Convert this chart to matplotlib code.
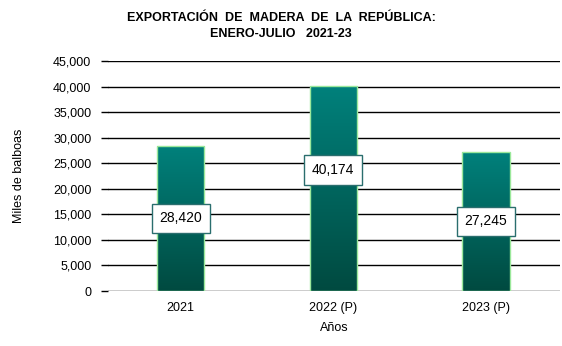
import matplotlib
matplotlib.use("Agg")
import matplotlib.pyplot as plt
import numpy as np
from matplotlib.ticker import FuncFormatter
from matplotlib.colors import LinearSegmentedColormap

# Exportación de madera, enero-julio (miles de balboas)
years = ['2021', '2022 (P)', '2023 (P)']
values = [28420, 40174, 27245]
label_y = [14210, 23700, 13620]

plt.rcParams['font.family'] = ['Liberation Sans', 'DejaVu Sans']

fig = plt.figure(figsize=(5.62, 3.46), dpi=100)
ax = fig.add_axes([108 / 562, 55 / 346, 452 / 562, 230 / 346])

x = np.arange(len(years))
bars = ax.bar(x, values, width=0.31, color='none', edgecolor='#9be89b', linewidth=1.0, zorder=3)

# vertical gradient inside each bar
grad = np.linspace(0, 1, 256).reshape(-1, 1)
cmap = LinearSegmentedColormap.from_list('teal', ['#004a40', '#00817c'])
for b in bars:
    x0, y0 = b.get_x(), b.get_y()
    w, h = b.get_width(), b.get_height()
    im = ax.imshow(grad, extent=[x0, x0 + w, y0, y0 + h], origin='lower',
                   cmap=cmap, aspect='auto', zorder=2)
    im.set_clip_path(b)

for xi, v, ly in zip(x, values, label_y):
    ax.text(xi, ly, f'{v:,}', ha='center', va='center', fontsize=10, zorder=5,
            bbox=dict(boxstyle='square,pad=0.55', fc='white', ec='#2a6e6e', lw=1.0))

ax.set_xlim(-0.475, 2.485)
ax.set_ylim(0, 45000)
ax.set_yticks(np.arange(0, 45001, 5000))
ax.yaxis.set_major_formatter(FuncFormatter(lambda v, p: f'{int(v):,}'))
ax.grid(axis='y', color='black', linewidth=1.0, zorder=1)
ax.set_axisbelow(True)
for s in ax.spines.values():
    s.set_visible(False)
ax.tick_params(axis='y', length=5, width=1, labelsize=9, pad=7)
ax.tick_params(axis='x', length=0, labelsize=9, pad=8)
ax.set_xticks(x)
ax.set_xticklabels(years)

ax.set_ylabel('Miles de balboas', fontsize=9, labelpad=20)
ax.set_xlabel('Años', fontsize=9, labelpad=6)

fig.text(0.5, 1 - 26 / 346, 'EXPORTACIÓN  DE  MADERA  DE  LA  REPÚBLICA:\nENERO-JULIO   2021-23',
         ha='center', va='center', fontsize=9, fontweight='bold', linespacing=1.45)

fig.savefig('out.png', dpi=100)
